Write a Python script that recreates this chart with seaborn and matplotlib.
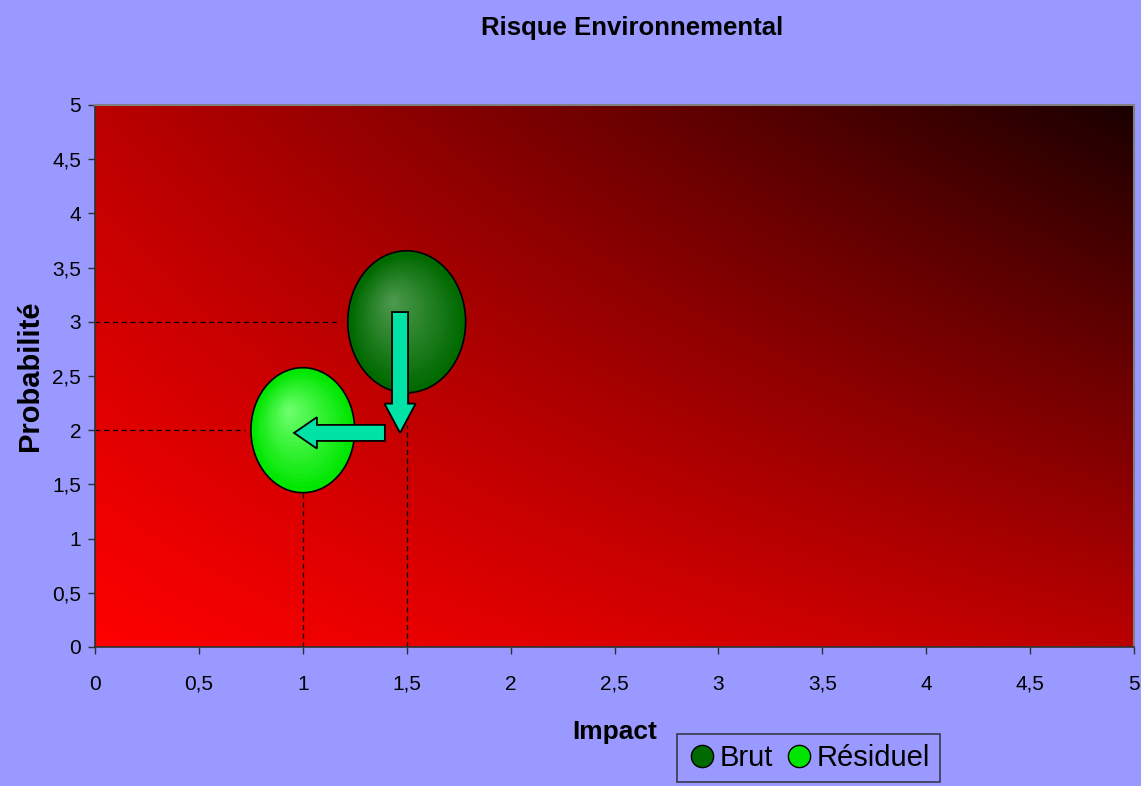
import numpy as np
import pandas as pd
import matplotlib
matplotlib.use('Agg')
import matplotlib.pyplot as plt
from matplotlib.path import Path
from matplotlib.lines import Line2D
import seaborn as sns

sns.set_theme(style='ticks')
plt.rcParams['font.family'] = ['Liberation Sans', 'DejaVu Sans']
plt.rcParams['text.color'] = 'black'

# donnees
series = ['Brut', 'Résiduel']
impact = [1.5, 1.0]
probabilite = [3.0, 2.0]
taille = [1.3, 1.0]
ticks = [0, 0.5, 1, 1.5, 2, 2.5, 3, 3.5, 4, 4.5, 5]
tick_labels = ['0', '0,5', '1', '1,5', '2', '2,5', '3', '3,5', '4', '4,5', '5']

couleurs = {'Brut': '#006a00', 'Résiduel': '#00e600'}
reflets = {'Brut': '#4f9a4f', 'Résiduel': '#70ff70'}

df = pd.DataFrame({'serie': series, 'impact': impact,
                   'probabilite': probabilite, 'taille': taille})

fond = '#9999ff'
fig = plt.figure(figsize=(11.41, 7.86), dpi=100, facecolor=fond)
ax = fig.add_axes([95/1141, 1-647/786, (1134-95)/1141, (647-105)/786])

# degrade du fond de la zone de traçage
u, v = np.meshgrid(np.linspace(0, 1, 300), np.linspace(0, 1, 300))
r = (255 - 68*u - 68*v - 93*u*v) / 255
img = np.dstack([r, np.zeros_like(r), np.zeros_like(r)])
ax.imshow(img, extent=[0, 5, 0, 5], origin='lower', aspect='auto', zorder=0)

# bulle en forme d'ellipse
t = np.linspace(0, 2*np.pi, 80)
ellipse = Path(np.column_stack([0.83*np.cos(t), np.sin(t)]), closed=True)

sns.scatterplot(data=df, x='impact', y='probabilite', hue='serie', palette=couleurs,
                size='taille', sizes=(8100, 10450), marker=ellipse,
                edgecolor='black', linewidth=1.2, legend=False, ax=ax, zorder=3)

# reflet radial
n = 18
dx, dy = -0.072, 0.19
for i, row in df.iterrows():
    s0 = 10450 if row['taille'] == max(taille) else 8100
    c1 = np.array(matplotlib.colors.to_rgb(couleurs[row['serie']]))
    c2 = np.array(matplotlib.colors.to_rgb(reflets[row['serie']]))
    for k in range(1, n):
        f = k / n
        col = c1 + (c2 - c1) * f
        ax.scatter(row['impact'] + dx*f, row['probabilite'] + dy*f,
                   s=s0*(0.97-f*0.95)**2, marker=ellipse, color=col,
                   linewidths=0, zorder=3.1)

# lignes de rappel
ax.plot([0, 1.18], [3, 3], ls=(0, (4, 3)), color='black', lw=0.9, zorder=2)
ax.plot([0, 0.72], [2, 2], ls=(0, (4, 3)), color='black', lw=0.9, zorder=2)
ax.plot([1, 1], [0, 1.42], ls=(0, (4, 3)), color='black', lw=0.9, zorder=2)
ax.plot([1.5, 1.5], [0, 2.05], ls=(0, (4, 3)), color='black', lw=0.9, zorder=2)

# fleches
fleche = dict(facecolor='#00e2a6', edgecolor='black', linewidth=1.3,
              length_includes_head=True, zorder=5)
ax.arrow(1.468, 3.09, 0, -1.115, width=0.077, head_width=0.15, head_length=0.27, **fleche)
ax.arrow(1.395, 1.975, -0.437, 0, width=0.148, head_width=0.29, head_length=0.11, **fleche)

ax.set_xlim(0, 5)
ax.set_ylim(0, 5)
ax.set_xticks(ticks)
ax.set_xticklabels(tick_labels)
ax.set_yticks(ticks)
ax.set_yticklabels(tick_labels)
ax.tick_params(axis='both', direction='out', length=5, width=1, color='#303030',
               labelsize=15, labelcolor='black')
ax.tick_params(axis='x', pad=15)
ax.tick_params(axis='y', pad=5)
ax.set_xlabel('')
ax.set_ylabel('')
for cote in ['left', 'bottom']:
    ax.spines[cote].set_color('#303030')
    ax.spines[cote].set_linewidth(1.2)
for cote in ['top', 'right']:
    ax.spines[cote].set_color('#808080')
    ax.spines[cote].set_linewidth(1.5)

fig.text(632/1141, 1-28/786, 'Risque Environnemental', ha='center', va='center',
         fontsize=18.5, fontweight='bold', color='black')
fig.text(615/1141, 1-732/786, 'Impact', ha='center', va='center',
         fontsize=19, fontweight='bold', color='black')
fig.text(30/1141, 1-376/786, 'Probabilité', ha='center', va='center', rotation=90,
         fontsize=21, fontweight='bold', color='black')

poignees = [Line2D([], [], ls='none', marker='o', markersize=16, markerfacecolor=couleurs[s],
                   markeredgecolor='black', markeredgewidth=1) for s in series]
leg = fig.legend(poignees, series, loc='upper left', bbox_to_anchor=(677/1141, 1-734/786),
                 ncol=2, frameon=True, fancybox=False, fontsize=21, borderaxespad=0,
                 handletextpad=0.1, columnspacing=0.4, handlelength=1.0,
                 borderpad=0.35, labelcolor='black')
leg.get_frame().set_facecolor(fond)
leg.get_frame().set_edgecolor('#202020')
leg.get_frame().set_linewidth(1.2)

fig.savefig('out.png', dpi=100, facecolor=fond)
